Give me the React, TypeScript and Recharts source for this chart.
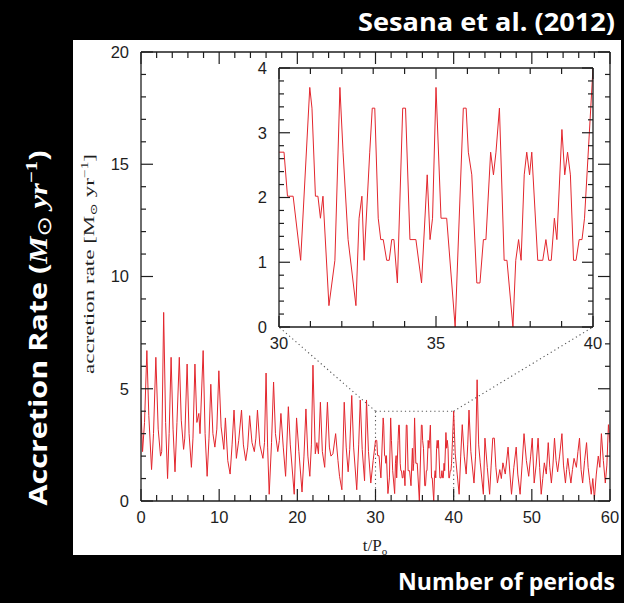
import React from 'react';
import { LineChart, Line, XAxis, YAxis, ReferenceLine } from 'recharts';

// ---------- data ----------
const earlyTime = [0.0, 0.2, 0.45, 0.75, 1.0, 1.35, 1.6, 1.9, 2.2, 2.5, 2.65, 2.9, 3.15, 3.4, 3.6, 3.85, 4.1, 4.35, 4.6, 4.9, 5.15, 5.45, 5.6, 5.9, 6.15, 6.45, 6.65, 6.9, 7.15, 7.4, 7.55, 7.95, 8.2, 8.46, 8.7, 8.93, 9.2, 9.45, 9.7, 9.96, 10.25, 10.6, 10.8, 11.1, 11.4, 11.65, 11.9, 12.2, 12.5, 12.86, 13.1, 13.4, 13.65, 13.9, 14.2, 14.5, 14.7, 14.9, 15.2, 15.6, 15.8, 16.0, 16.2, 16.4, 16.7, 16.96, 17.2, 17.5, 17.7, 17.9, 18.2, 18.5, 18.85, 19.1, 19.6, 19.9, 20.2, 20.6, 20.85, 21.1, 21.35, 21.6, 21.8, 22.0, 22.3, 22.5, 22.7, 22.95, 23.2, 23.5, 23.85, 24.1, 24.3, 24.55, 24.9, 25.2, 25.4, 25.7, 26.0, 26.25, 26.5, 26.7, 26.96, 27.2, 27.6, 27.85, 28.05, 28.3, 28.6, 28.85, 29.1, 29.4, 29.7];
const earlyRate = [4.0, 2.2, 3.5, 6.7, 3.8, 1.4, 3.0, 6.4, 3.2, 2.0, 2.2, 8.4, 3.5, 1.0, 3.0, 6.4, 3.2, 1.3, 3.5, 6.4, 3.6, 2.3, 2.8, 6.1, 3.0, 1.5, 2.8, 6.1, 3.5, 3.9, 3.0, 6.7, 3.0, 1.1, 2.8, 5.2, 3.0, 2.4, 3.2, 5.8, 3.3, 2.3, 3.7, 1.8, 1.2, 2.5, 4.05, 1.9, 2.7, 4.05, 2.5, 1.8, 2.4, 3.8, 2.6, 2.2, 2.8, 4.05, 2.5, 1.9, 2.6, 5.7, 2.4, 0.3, 2.6, 5.3, 3.0, 2.2, 2.7, 3.9, 2.4, 1.1, 4.2, 2.5, 0.3, 3.7, 2.2, 0.4, 2.0, 4.1, 2.0, 1.1, 2.5, 6.05, 2.1, 2.6, 2.1, 4.4, 2.2, 1.5, 4.4, 2.4, 2.0, 2.1, 3.0, 1.8, 1.1, 0.5, 4.4, 2.4, 1.3, 2.3, 4.7, 2.4, 0.5, 2.5, 4.5, 2.3, 0.9, 4.5, 2.2, 0.8, 1.8];

const zoomTime = [30.0, 30.16, 30.27, 30.45, 30.69, 30.98, 31.05, 31.16, 31.24, 31.32, 31.40, 31.59, 31.78, 31.94, 32.04, 32.20, 32.45, 32.55, 32.64, 32.71, 32.89, 32.97, 33.05, 33.16, 33.24, 33.32, 33.43, 33.51, 33.59, 33.66, 33.77, 33.94, 34.03, 34.17, 34.36, 34.54, 34.72, 34.81, 34.89, 35.0, 35.16, 35.34, 35.61, 35.87, 35.96, 36.03, 36.14, 36.30, 36.40, 36.51, 36.59, 36.74, 36.83, 36.91, 37.02, 37.17, 37.26, 37.45, 37.54, 37.63, 37.71, 37.81, 37.89, 37.98, 38.05, 38.24, 38.40, 38.50, 38.59, 38.67, 38.77, 38.85, 39.01, 39.10, 39.19, 39.28, 39.38, 39.46, 39.56, 39.65, 39.73, 40.0];
const zoomRate = [2.7, 2.7, 2.02, 2.02, 1.03, 3.7, 3.38, 2.02, 2.02, 1.68, 2.02, 0.33, 1.03, 3.7, 2.7, 1.35, 0.33, 1.68, 2.02, 1.03, 2.7, 3.38, 3.38, 1.68, 1.35, 1.35, 1.03, 1.03, 1.35, 1.35, 0.68, 3.38, 3.38, 1.35, 1.35, 0.68, 2.35, 1.35, 1.68, 3.7, 1.68, 1.68, 0.0, 3.38, 3.38, 2.7, 2.35, 0.68, 0.68, 1.35, 1.35, 2.7, 2.35, 2.7, 3.38, 1.03, 1.03, 0.0, 1.03, 1.35, 1.03, 2.35, 2.7, 2.35, 2.7, 1.03, 1.03, 1.35, 1.03, 1.03, 1.68, 1.35, 3.05, 2.35, 2.7, 2.35, 1.03, 1.03, 1.35, 1.35, 1.68, 4.0];

const lateTime = [40.2, 40.45, 40.7, 40.9, 41.1, 41.35, 41.6, 41.8, 41.96, 42.2, 42.6, 42.8, 43.0, 43.2, 43.4, 43.8, 44.0, 44.3, 44.6, 44.8, 45.0, 45.2, 45.4, 45.6, 45.9, 46.1, 46.3, 46.6, 46.96, 47.2, 47.4, 47.7, 48.0, 48.2, 48.5, 48.75, 49.0, 49.3, 49.6, 49.85, 50.05, 50.3, 50.55, 50.8, 51.0, 51.2, 51.4, 51.6, 51.85, 52.1, 52.3, 52.5, 52.7, 52.9, 53.1, 53.3, 53.55, 53.85, 54.05, 54.3, 54.45, 54.6, 54.8, 55.0, 55.2, 55.4, 55.7, 55.9, 56.1, 56.3, 56.5, 56.75, 57.0, 57.2, 57.4, 57.6, 57.8, 58.0, 58.25, 58.5, 58.7, 58.9, 59.15, 59.4, 59.6, 59.8, 60.0];
const lateRate = [2.1, 1.2, 0.3, 2.0, 3.4, 2.0, 1.2, 2.5, 4.05, 2.2, 0.8, 2.0, 5.4, 2.5, 1.7, 0.3, 2.8, 1.5, 0.3, 1.6, 2.8, 2.8, 1.5, 0.8, 1.4, 1.0, 1.7, 1.2, 2.4, 1.2, 0.3, 1.5, 2.4, 1.2, 0.3, 1.6, 3.0, 1.8, 1.1, 2.0, 2.8, 0.8, 1.6, 2.8, 1.5, 0.3, 1.0, 1.7, 1.2, 2.6, 1.5, 0.8, 1.6, 2.8, 1.8, 1.3, 2.0, 3.0, 1.6, 0.8, 1.4, 1.9, 1.3, 0.8, 1.4, 1.9, 1.5, 2.2, 2.8, 1.4, 0.8, 1.8, 2.6, 1.5, 0.9, 0.3, 1.0, 0.1, 1.2, 2.0, 1.5, 3.0, 1.8, 0.8, 1.6, 3.4, 2.6];

const mainXTicks = [0, 2, 4, 6, 8, 10, 12, 14, 16, 18, 20, 22, 24, 26, 28, 30, 32, 34, 36, 38, 40, 42, 44, 46, 48, 50, 52, 54, 56, 58, 60];
const mainYTicks = [0, 1, 2, 3, 4, 5, 6, 7, 8, 9, 10, 11, 12, 13, 14, 15, 16, 17, 18, 19, 20];
const insetXTicks = [30, 31, 32, 33, 34, 35, 36, 37, 38, 39, 40];
const insetYTicks = [0, 0.2, 0.4, 0.6, 0.8, 1, 1.2, 1.4, 1.6, 1.8, 2, 2.2, 2.4, 2.6, 2.8, 3, 3.2, 3.4, 3.6, 3.8, 4];

const zoomWindow = { t0: 30, t1: 40, r0: 0, r1: 4 };

const mainData = [
  ...earlyTime.map((t, i) => ({ t, rate: earlyRate[i] })),
  ...zoomTime.map((t, i) => ({ t, rate: zoomRate[i] })),
  ...lateTime.map((t, i) => ({ t, rate: lateRate[i] })),
];
const insetData = zoomTime.map((t, i) => ({ t, rate: zoomRate[i] }));

// ---------- layout ----------
const W = 624;
const H = 603;
const MAIN = { left: 141, right: 610, top: 52, bottom: 501 };
const INSET_SVG = { left: 230, top: 50, width: 380, height: 310 };
const INSET = { left: 279, right: 593, top: 68, bottom: 327 };
const RED = '#e3262d';
const INK = '#1e1e1e';
const TICK_FONT = '"Liberation Sans", Arial, sans-serif';
const SERIF = '"Liberation Serif", "DejaVu Serif", serif';
const BOLD_SANS = '"Open Sans", "Liberation Sans", sans-serif';

// inset corners expressed in main-chart data units (for the dotted connectors)
const mainTAt = (px: number) => ((px - MAIN.left) / (MAIN.right - MAIN.left)) * 60;
const mainRAt = (py: number) => ((MAIN.bottom - py) / (MAIN.bottom - MAIN.top)) * 20;

const isInt = (v: number, step: number) => Math.abs(v / step - Math.round(v / step)) < 1e-6;

type Side = 'bottom' | 'top' | 'left' | 'right';
function makeTick(side: Side, majorStep: number, majorLen: number, minorLen: number, label: boolean, offset: number) {
  return (props: any) => {
    const { x, y, payload } = props;
    const v: number = payload.value;
    const major = isInt(v, majorStep);
    const len = major ? majorLen : minorLen;
    let line;
    if (side === 'bottom') line = <line x1={x} x2={x} y1={y} y2={y - len} stroke={INK} strokeWidth={1.2} />;
    else if (side === 'top') line = <line x1={x} x2={x} y1={y} y2={y + len} stroke={INK} strokeWidth={1.2} />;
    else if (side === 'left') line = <line x1={x} x2={x + len} y1={y} y2={y} stroke={INK} strokeWidth={1.2} />;
    else line = <line x1={x} x2={x - len} y1={y} y2={y} stroke={INK} strokeWidth={1.2} />;
    let txt = null;
    if (label && major) {
      const s = String(Math.round(v * 1000) / 1000);
      if (side === 'bottom')
        txt = (
          <text x={x} y={y + offset} textAnchor="middle" fontFamily={TICK_FONT} fontSize={16.5} fill={INK}>
            {s}
          </text>
        );
      else if (side === 'left')
        txt = (
          <text x={x - offset} y={y} dy="0.36em" textAnchor="end" fontFamily={TICK_FONT} fontSize={16.5} fill={INK}>
            {s}
          </text>
        );
    }
    return (
      <g>
        {line}
        {txt}
      </g>
    );
  };
}

const frame = { stroke: INK, strokeWidth: 1.3 };
const dotted = { stroke: '#555', strokeDasharray: '1.2 3', strokeWidth: 1.1 };

function MainChart() {
  const blT = mainTAt(INSET.left);
  const brT = mainTAt(INSET.right);
  const bR = mainRAt(INSET.bottom);
  const { t0, t1, r0, r1 } = zoomWindow;
  return (
    <LineChart
      width={W}
      height={H}
      data={mainData}
      margin={{ top: MAIN.top - 1, left: MAIN.left - 1, right: W - MAIN.right - 1, bottom: H - MAIN.bottom - 30 }}
    >
      <XAxis dataKey="t" type="number" domain={[0, 60]} ticks={mainXTicks} interval={0} allowDataOverflow
        height={30} tickSize={0} tickMargin={0} tickLine={false} axisLine={frame}
        tick={makeTick('bottom', 10, 12, 6, true, 22)} />
      <XAxis xAxisId="top" orientation="top" dataKey="t" type="number" domain={[0, 60]} ticks={mainXTicks} interval={0} allowDataOverflow
        height={1} tickSize={0} tickMargin={0} tickLine={false} axisLine={frame}
        tick={makeTick('top', 10, 12, 6, false, 0)} />
      <YAxis type="number" domain={[0, 20]} ticks={mainYTicks} interval={0} allowDataOverflow
        width={1} tickSize={0} tickMargin={0} tickLine={false} axisLine={frame}
        tick={makeTick('left', 5, 12, 5, true, 12)} />
      <YAxis yAxisId="right" orientation="right" type="number" domain={[0, 20]} ticks={mainYTicks} interval={0} allowDataOverflow
        width={1} tickSize={0} tickMargin={0} tickLine={false} axisLine={frame}
        tick={makeTick('right', 5, 12, 5, false, 0)} />
      <ReferenceLine segment={[{ x: t0, y: r0 }, { x: t0, y: r1 }]} {...dotted} ifOverflow="visible" />
      <ReferenceLine segment={[{ x: t1, y: r0 }, { x: t1, y: r1 }]} {...dotted} ifOverflow="visible" />
      <ReferenceLine segment={[{ x: t0, y: r1 }, { x: t1, y: r1 }]} {...dotted} ifOverflow="visible" />
      <ReferenceLine segment={[{ x: t0, y: r1 }, { x: blT, y: bR }]} {...dotted} ifOverflow="visible" />
      <ReferenceLine segment={[{ x: t1, y: r1 }, { x: brT, y: bR }]} {...dotted} ifOverflow="visible" />
      <Line type="linear" dataKey="rate" stroke={RED} strokeWidth={1} dot={false} isAnimationActive={false} />
    </LineChart>
  );
}

function InsetChart() {
  const m = {
    left: INSET.left - INSET_SVG.left - 1,
    top: INSET.top - INSET_SVG.top - 1,
    right: INSET_SVG.left + INSET_SVG.width - INSET.right - 1,
    bottom: INSET_SVG.top + INSET_SVG.height - INSET.bottom - 1,
  };
  return (
    <LineChart width={INSET_SVG.width} height={INSET_SVG.height} data={insetData} margin={m}>
      <XAxis dataKey="t" type="number" domain={[30, 40]} ticks={insetXTicks} interval={0} allowDataOverflow
        height={1} tickSize={0} tickMargin={0} tickLine={false} axisLine={frame}
        tick={makeTick('bottom', 5, 11, 6, true, 22)} />
      <XAxis xAxisId="top" orientation="top" dataKey="t" type="number" domain={[30, 40]} ticks={insetXTicks} interval={0} allowDataOverflow
        height={1} tickSize={0} tickMargin={0} tickLine={false} axisLine={frame}
        tick={makeTick('top', 5, 11, 6, false, 0)} />
      <YAxis type="number" domain={[0, 4]} ticks={insetYTicks} interval={0} allowDataOverflow
        width={1} tickSize={0} tickMargin={0} tickLine={false} axisLine={frame}
        tick={makeTick('left', 1, 11, 5, true, 12)} />
      <YAxis yAxisId="right" orientation="right" type="number" domain={[0, 4]} ticks={insetYTicks} interval={0} allowDataOverflow
        width={1} tickSize={0} tickMargin={0} tickLine={false} axisLine={frame}
        tick={makeTick('right', 1, 11, 5, false, 0)} />
      <Line type="linear" dataKey="rate" stroke={RED} strokeWidth={1} dot={false} isAnimationActive={false} />
    </LineChart>
  );
}

export default function App() {
  return (
    <div style={{ position: 'absolute', left: 0, top: 0, width: W, height: H, background: '#000', overflow: 'hidden' }}>
      <svg width={W} height={H} style={{ position: 'absolute', left: 0, top: 0 }}>
        <rect x={73} y={40} width={548} height={515} fill="#fff" />
        <text x={615} y={31} textAnchor="end" fontFamily={BOLD_SANS} fontWeight={700} fontSize={25} fill="#fff"
          textLength={257} lengthAdjust="spacingAndGlyphs">
          Sesana et al. (2012)
        </text>
        <text x={615} y={590} textAnchor="end" fontFamily={BOLD_SANS} fontWeight={700} fontSize={24} fill="#fff"
          textLength={217} lengthAdjust="spacingAndGlyphs">
          Number of periods
        </text>
        <g transform="translate(47,328) rotate(-90)">
          <text x={0} y={0} textAnchor="middle" fill="#fff" fontSize={25} textLength={355} lengthAdjust="spacingAndGlyphs">
            <tspan fontFamily={BOLD_SANS} fontWeight={700}>Accretion Rate (</tspan>
            <tspan fontFamily={SERIF} fontStyle="italic" fontWeight={700}>M</tspan>
            <tspan fontFamily='"DejaVu Sans", sans-serif' fontSize={20} dy={4}>⊙</tspan>
            <tspan fontFamily={SERIF} fontStyle="italic" fontWeight={700} dy={-4}> yr</tspan>
            <tspan fontFamily={SERIF} fontWeight={700} fontSize={17} dy={-10}>−1</tspan>
            <tspan fontFamily={BOLD_SANS} fontWeight={700} dy={10}>)</tspan>
          </text>
        </g>
        <g transform="translate(94,264) rotate(-90)">
          <text x={0} y={0} textAnchor="middle" fill={INK} fontFamily={SERIF} fontSize={15} textLength={220} lengthAdjust="spacingAndGlyphs">
            <tspan>accretion rate [M</tspan>
            <tspan fontSize={10} dy={3}>⊙</tspan>
            <tspan dy={-3}> yr</tspan>
            <tspan fontSize={10} dy={-6}>−1</tspan>
            <tspan dy={6}>]</tspan>
          </text>
        </g>
        <text x={375} y={551} textAnchor="middle" fill={INK} fontFamily={SERIF} fontSize={17}>
          <tspan>t/P</tspan>
          <tspan fontSize={11} dy={4}>o</tspan>
        </text>
      </svg>
      <div style={{ position: 'absolute', left: 0, top: 0 }}>
        <MainChart />
      </div>
      <div style={{ position: 'absolute', left: INSET_SVG.left, top: INSET_SVG.top }}>
        <InsetChart />
      </div>
    </div>
  );
}
